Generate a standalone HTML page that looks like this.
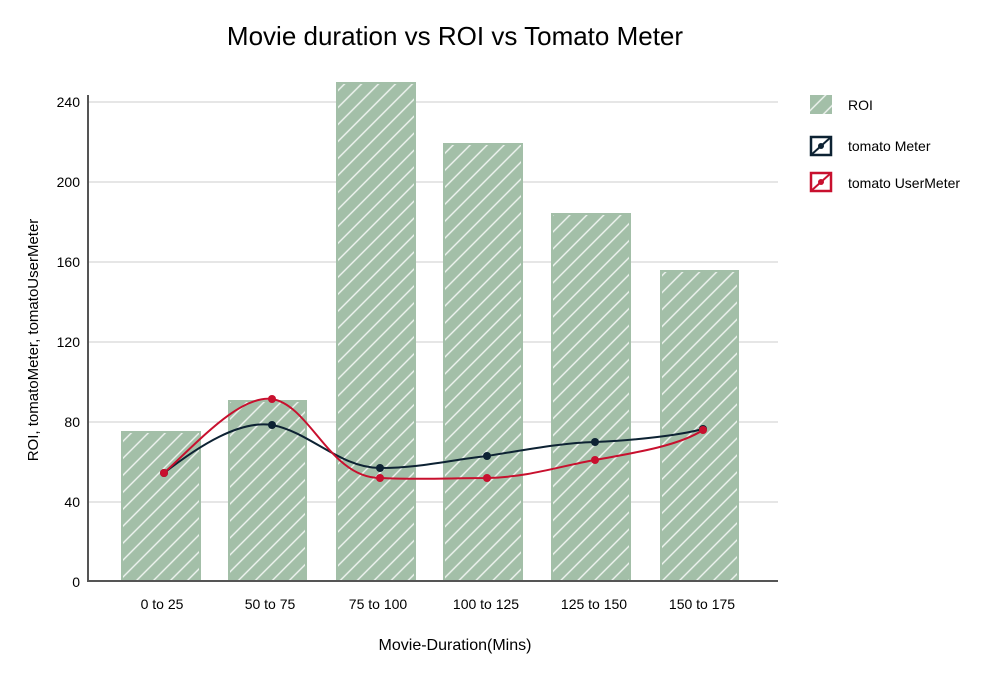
<!DOCTYPE html>
<html><head><meta charset="utf-8"><style>
body{margin:0;background:#fff}
svg{display:block;font-family:"Liberation Sans",sans-serif}
</style></head><body>
<svg width="1000" height="676" viewBox="0 0 1000 676">
<defs>
<pattern id="h" patternUnits="userSpaceOnUse" width="12" height="12" patternTransform="rotate(-45)">
<rect width="12" height="12" fill="#a3bfa8"/>
<line x1="0" y1="3" x2="12" y2="3" stroke="#fff" stroke-width="1.4" opacity="0.85"/>
</pattern>
</defs>
<text x="455" y="45" font-size="26" text-anchor="middle" fill="#000">Movie duration vs ROI vs Tomato Meter</text>
<g stroke="#ccc" stroke-width="1">
<line x1="88" y1="102" x2="778" y2="102"/><line x1="88" y1="182" x2="778" y2="182"/>
<line x1="88" y1="262" x2="778" y2="262"/><line x1="88" y1="342" x2="778" y2="342"/>
<line x1="88" y1="422" x2="778" y2="422"/><line x1="88" y1="502" x2="778" y2="502"/>
</g>
<g fill="url(#h)" stroke="#a3bfa8" stroke-width="2">
<rect x="122" y="432" width="78" height="149"/>
<rect x="229" y="401" width="77" height="180"/>
<rect x="337" y="83" width="78" height="498"/>
<rect x="444" y="144" width="78" height="437"/>
<rect x="552" y="214" width="78" height="367"/>
<rect x="661" y="271" width="77" height="310"/>
</g>
<g stroke="#555" stroke-width="2"><line x1="88" y1="95" x2="88" y2="582"/><line x1="87" y1="581" x2="778" y2="581"/></g>
<g font-size="14" text-anchor="end" fill="#000">
<text x="80" y="107">240</text><text x="80" y="187">200</text><text x="80" y="267">160</text>
<text x="80" y="347">120</text><text x="80" y="427">80</text><text x="80" y="507">40</text><text x="80" y="587">0</text>
</g>
<g font-size="14" text-anchor="middle" fill="#000">
<text x="162" y="609">0 to 25</text><text x="270" y="609">50 to 75</text><text x="378" y="609">75 to 100</text>
<text x="486" y="609">100 to 125</text><text x="594" y="609">125 to 150</text><text x="702" y="609">150 to 175</text>
</g>
<text x="455" y="650" font-size="16" text-anchor="middle">Movie-Duration(Mins)</text>
<text transform="translate(38,340) rotate(-90)" font-size="15" text-anchor="middle">ROI, tomatoMeter, tomatoUserMeter</text>
<path d="M164,473 C200,445 240,420 272,425 C310,432 340,468 380,468 C420,468 450,460 487,456 C525,450 560,443 595,442 C640,440 680,435 703,429" fill="none" stroke="#0d2233" stroke-width="2"/>
<path d="M164,473 C200,440 240,395 272,399 C310,405 330,478 380,478 C420,480 450,478 487,478 C530,477 560,466 595,460 C640,452 680,445 703,430" fill="none" stroke="#c8102e" stroke-width="2"/>
<g fill="#0d2233"><circle cx="164" cy="473" r="4"/><circle cx="272" cy="425" r="4"/><circle cx="380" cy="468" r="4"/><circle cx="487" cy="456" r="4"/><circle cx="595" cy="442" r="4"/><circle cx="703" cy="429" r="4"/></g>
<g fill="#c8102e"><circle cx="164" cy="473" r="4"/><circle cx="272" cy="399" r="4"/><circle cx="380" cy="478" r="4"/><circle cx="487" cy="478" r="4"/><circle cx="595" cy="460" r="4"/><circle cx="703" cy="430" r="4"/></g>
<rect x="810" y="95" width="22" height="19" fill="url(#h)"/>
<text x="848" y="110" font-size="14">ROI</text>
<rect x="811" y="137" width="20" height="18" fill="none" stroke="#0d2233" stroke-width="2.5"/>
<line x1="811" y1="155" x2="831" y2="137" stroke="#0d2233" stroke-width="2"/><circle cx="821" cy="146" r="3" fill="#0d2233"/>
<text x="848" y="151" font-size="14">tomato Meter</text>
<rect x="811" y="173" width="20" height="18" fill="none" stroke="#c8102e" stroke-width="2.5"/>
<line x1="811" y1="191" x2="831" y2="173" stroke="#c8102e" stroke-width="2"/><circle cx="821" cy="182" r="3" fill="#c8102e"/>
<text x="848" y="188" font-size="14">tomato UserMeter</text>
</svg>
</body></html>
